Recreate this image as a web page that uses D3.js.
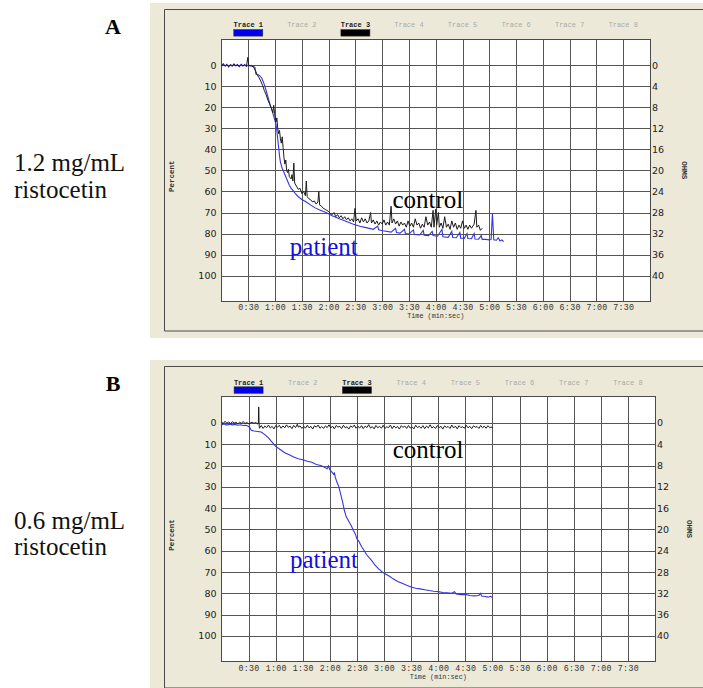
<!DOCTYPE html>
<html>
<head>
<meta charset="utf-8">
<script src="https://cdn.jsdelivr.net/npm/d3@7"></script>
<style>
  body { margin: 0; background: #fff; }
  svg { display: block; }
</style>
</head>
<body>
<div class="vis"></div>
<script>
// tick labels
const timeSeconds = [30, 60, 90, 120, 150, 180, 210, 240, 270, 300, 330, 360, 390, 420, 450];
const timeTicks = ["0:30", "1:00", "1:30", "2:00", "2:30", "3:00", "3:30", "4:00", "4:30", "5:00", "5:30", "6:00", "6:30", "7:00", "7:30"];
const percentTicks = [0, 10, 20, 30, 40, 50, 60, 70, 80, 90, 100];
const ohmsTicks = [0, 4, 8, 12, 16, 20, 24, 28, 32, 36, 40];
const traceNames = ["Trace 1", "Trace 2", "Trace 3", "Trace 4", "Trace 5", "Trace 6", "Trace 7", "Trace 8"];
const activeTraces = ["Trace 1", "Trace 3"];
const panelLetters = ["A", "B"];
const doses = ["1.2 mg/mL", "0.6 mg/mL"];

// [seconds, percent aggregation]
const controlA = [
  [0,0.3],[2,-0.5],[4,0.4],[6,-0.3],[8,0.5],[10,-0.4],[12,0.2],[14,-0.6],[16,0.3],[18,-0.2],
  [20,0.5],[22,-0.4],[24,0.2],[26,-0.3],[28,0.3],[29.5,-3.8],[30.5,0.2],[32,0],[34,0.4],[36,0.8],
  [38,2.5],[40,4.5],[42,5.8],[44,7.5],[46,9.5],[48,12],[50,14],[52,16.5],[54,18.5],[56,20.5],
  [57.5,22.5],[58.5,19],[59.5,23],[61,27],[62,25],[63,30],[64,32.5],[65,31],[66,35],[67,37],
  [68,34],[69,39],[70,44],[71,47],[72,45],[73,50],[74,51],[75,49.5],[76,53],[78,54],
  [79,52],[80,55],[81,46.5],[82,56],[84,57.5],[86,59],[88,58.5],[90,61],[92,60],[94,62],
  [95,55],[96,62.5],[98,63.5],[100,64],[102,65],[104,64.5],[106,66],[108,65],[109,60],[110,66.5],
  [112,67],[114,68],[116,68.5],[118,69],[120,69.5],[122,70.5],[124,71],[126,70],[128,72],[130,71],
  [132,72.5],[134,71.5],[136,73],[138,72],[140,73.5],[142,72.5],[144,74],[146,73],[148,74.5],[149.5,68],
  [151,74],[153,73],[155,75],[157,72.5],[159,74.5],[161,73],[163,75],[165,74],[167,70],[168,75],
  [170,73.5],[172,75.5],[174,74],[176,76],[178,74.5],[180,75.5],[182,73.5],[184,76],[186,74.5],[188,76],
  [190,67],[191,75],[193,73],[195,75.5],[197,74],[199,76.5],[201,74.5],[203,76],[205,75],[207,77],
  [209,74],[211,76.5],[213,75],[215,77],[217,73],[219,76],[221,75],[223,77.5],[225,75.5],[227,77],
  [229,72],[231,76],[233,74.5],[235,77],[237,69],[238,77],[240,68.5],[241,76],[243,70],[244,77],
  [246,75],[248,77.5],[250,72],[252,77],[254,75.5],[256,78],[258,74],[260,77],[262,75],[264,78],
  [266,76],[268,77.5],[270,74],[272,77.5],[274,76],[276,78],[278,76],[280,77.5],[283,75.5],[285,69],
  [286,77],[288,76],[290,78.5],[292,77.5]
];

const patientA = [
  [0,0.5],[2,-0.8],[4,0.3],[6,-0.5],[8,0.8],[10,-0.3],[12,0.4],[14,-0.7],[16,0.2],[18,-0.4],
  [20,0.6],[22,-0.5],[24,0.3],[26,-0.3],[28,0.5],[30,-0.2],[32,0.3],[34,0],[36,0.5],[37.5,1],
  [38.5,4.2],[41,4.5],[43,5],[45,6],[47,8],[49,10.5],[51,13.5],[53,16.5],[55,19.5],[57,22],
  [59,25],[61,28],[62,31],[63,35],[64,39],[65,43],[66,46],[68,49],[70,51],[72,53],
  [74,55],[76,57],[78,58.5],[80,59.5],[83,61.2],[86,62.5],[90,63.8],[95,65],[100,66.5],[105,67.8],
  [110,68.8],[117,70],[124,71.5],[132,73],[140,74.3],[147,75.5],[155,76.5],[162,77.2],[170,78],[175,76.5],
  [176,78.2],[181,78.7],[190,79.3],[195,77.5],[196,79.5],[200,79.8],[205,78],[206,80],[210,80.2],[215,78.3],
  [216,80.5],[222,80.7],[226,78.5],[227,80.8],[232,81],[236,79],[237,81],[242,81.3],[247,78],[248,81.5],
  [254,81.8],[258,79],[259,81.9],[263,82],[267,79.5],[268,82.2],[272,82.3],[275,80],[276,82.4],[280,82.5],
  [283,80],[284,82.6],[288,82.7],[291,81],[292,82.8],[296,82.8],[300,83],[302,82.8],[303.5,70.5],[305,83],
  [308,83.2],[310,82],[312,83.5],[314,83],[316,83.8]
];

const controlB = [
  [0,-0.5],[2,0.3],[4,-0.8],[6,0.2],[8,-0.5],[10,0.4],[12,-0.6],[14,0.1],[16,-0.4],[18,0.5],
  [20,-0.3],[22,0.2],[24,-0.7],[26,0.3],[28,-0.2],[30,0.4],[32,0],[34,-0.3],[36,0.2],[38,-0.2],
  [40,0.5],[40.8,0.3],[41.2,-7.5],[41.6,0.5],[42,2.5],[44,1.2],[46,2.6],[48,1.5],[50,2.2],[52,1.0],
  [54,2.4],[56,1.6],[58,2.8],[60,1.3],[62,2.0],[64,1.1],[66,2.5],[68,1.4],[70,2.3],[72,0.9],
  [74,2.1],[76,1.5],[78,2.7],[80,1.2],[82,2.2],[84,0.6],[85,2.0],[87,1.4],[89,2.6],[91,1.7],
  [93,2.4],[95,1.1],[97,2.3],[99,1.6],[101,2.9],[103,1.3],[105,2.0],[107,1.0],[109,2.5],[111,1.7],
  [113,2.6],[115,1.4],[117,2.2],[119,0.9],[121,2.4],[123,1.5],[125,2.8],[127,1.2],[129,2.0],[131,1.6],
  [133,2.7],[135,1.1],[137,2.3],[139,1.8],[141,2.9],[143,1.4],[145,2.1],[147,1.0],[149,2.5],[151,1.6],
  [153,2.4],[155,1.3],[157,2.7],[159,1.5],[161,2.2],[163,0.8],[165,2.4],[167,1.7],[169,2.8],[171,1.2],
  [173,2.3],[175,1.6],[177,2.5],[179,1.1],[181,2.6],[183,1.8],[185,2.2],[187,1.0],[189,2.7],[191,1.4],
  [193,2.3],[195,1.7],[197,2.9],[199,1.3],[201,2.1],[203,1.5],[205,2.6],[207,1.2],[209,2.4],[211,1.8],
  [213,2.8],[215,1.1],[217,2.2],[219,1.6],[221,2.5],[223,1.3],[225,2.7],[227,1.5],[229,2.3],[231,0.9],
  [233,2.4],[235,1.7],[237,2.6],[239,1.2],[241,2.2],[243,1.6],[245,2.9],[247,1.4],[249,2.1],[251,1.7],
  [253,2.6],[255,1.0],[257,2.4],[259,1.5],[261,2.8],[263,1.3],[265,2.2],[267,1.8],[269,2.5],[271,1.1],
  [273,2.3],[275,1.6],[277,2.7],[279,1.4],[281,2.0],[283,1.7],[285,2.6],[287,1.2],[289,2.3],[291,1.5],
  [293,2.5],[295,1.3],[297,2.2],[299,1.9],[300,2.6]
];

const patientB = [
  [0,0.8],[3,0.5],[6,1.0],[9,0.6],[12,0.9],[15,0.7],[18,1.1],[21,0.9],[24,1.2],[27,1.1],
  [29,1.5],[31,2],[33,3.5],[36,3.8],[40,4],[44,4.3],[48,5.5],[52,7],[56,9],[60,11],
  [65,12.5],[70,14],[75,15],[80,16],[85,16.8],[90,17.3],[95,18],[100,18.5],[105,19.5],[110,20],
  [114,20.8],[117,21.5],[118.5,20.2],[120,22],[122,23],[124,24],[125,23.5],[126,25.5],[128,28],[130,30],
  [132,33.5],[134,37],[136,41],[138,44],[140,45.5],[142,47],[144,48.5],[146,50.5],[148,52],[150,54.5],
  [152,55.5],[155,58],[158,60],[161,62],[164,63.5],[167,65],[170,66.8],[174,68.5],[178,70],[182,71],
  [186,72],[190,73.2],[195,74.4],[200,75.3],[205,76.2],[210,77],[215,77.6],[220,77.9],[225,78.3],[230,78.7],
  [235,79],[240,79.2],[245,79.6],[250,79.8],[255,80],[258,79.2],[260,80.3],[265,80.6],[270,80.5],[275,81],
  [280,81.2],[285,81],[287,80],[288,81.3],[292,81.5],[295,81.8],[298,81.4],[300,82]
];

// layout of the two recorder panels
const panels = [
  { letter: panelLetters[0], dose: doses[0], control: controlA, patient: patientA,
    frameTop: 3, x0: 221.5, x1: 650, top: 39.3, bottom: 301,
    controlAt: [191.5, 68], patientAt: [76.5, 90.3], doseY: 171 },
  { letter: panelLetters[1], dose: doses[1], control: controlB, patient: patientB,
    frameTop: 360, x0: 221.5, x1: 655, top: 396.5, bottom: 661.7,
    controlAt: [189.5, 16.5], patientAt: [75.8, 68.2], doseY: 528.5 }
];

const W = 703, H = 688;
const mono = "'Liberation Mono', 'DejaVu Sans Mono', monospace";
const sans = "'DejaVu Sans', Verdana, sans-serif";
const serif = "'Liberation Serif', 'Times New Roman', serif";
const blue = "#3535dd";

const svg = d3.select(".vis")
  .append("svg")
  .attr("width", W)
  .attr("height", H);

panels.forEach(p => drawPanel(p));

function drawPanel(p) {
  const x = d3.scaleLinear().domain([0, 480]).range([p.x0, p.x1]);
  const y = d3.scaleLinear().domain([-12.4, 112.1]).range([p.top, p.bottom]);
  const yOhms = d3.scaleLinear().domain([-12.4 * 0.4, 112.1 * 0.4]).range([p.top, p.bottom]);
  const w = p.x1 - p.x0, h = p.bottom - p.top;
  const g = svg.append("g");

  // beige window and its frame
  g.append("rect")
    .attr("x", 150).attr("y", p.frameTop)
    .attr("width", W - 150).attr("height", 335)
    .attr("fill", "#ece9d8");
  g.append("path")
    .attr("d", `M${W + 5},${p.frameTop + 6.5}H164.5V${p.frameTop + 328}H${W + 5}`)
    .attr("fill", "none")
    .attr("stroke", "#4a4a4a")
    .attr("stroke-width", 1);

  // left side labels
  g.append("text")
    .attr("x", 113).attr("y", p.frameTop + 30.5)
    .attr("text-anchor", "middle")
    .style("font-family", serif).style("font-size", "22px").style("font-weight", "bold")
    .text(p.letter);
  const dose = g.append("text")
    .attr("x", 14).attr("y", p.doseY)
    .style("font-family", serif).style("font-size", "25px")
    .attr("fill", "#111");
  dose.append("tspan").attr("x", 14).text(p.dose);
  dose.append("tspan").attr("x", 14).attr("dy", 26.5).text("ristocetin");

  // plot background
  g.append("rect")
    .attr("x", p.x0).attr("y", p.top)
    .attr("width", w).attr("height", h)
    .attr("fill", "#fff");

  // grid + axes
  const left = g.append("g")
    .attr("transform", `translate(${p.x0},0)`)
    .call(d3.axisLeft(y).tickValues(percentTicks).tickSize(-w).tickPadding(5));
  const right = g.append("g")
    .attr("transform", `translate(${p.x1},0)`)
    .call(d3.axisRight(yOhms).tickValues(ohmsTicks).tickSize(0).tickPadding(2));
  const bottom = g.append("g")
    .attr("transform", `translate(0,${p.bottom})`)
    .call(d3.axisBottom(x).tickValues(timeSeconds)
      .tickFormat((d, i) => timeTicks[i]).tickSize(-h).tickPadding(3));

  [left, right, bottom].forEach(a => {
    a.select(".domain").remove();
    a.selectAll("line").attr("stroke", "#555").attr("stroke-width", 1).attr("shape-rendering", "crispEdges");
  });
  left.selectAll("text").style("font-family", sans).style("font-size", "9.5px").attr("fill", "#222");
  right.selectAll("text").style("font-family", sans).style("font-size", "9.5px").attr("fill", "#222");
  bottom.selectAll("text").style("font-family", mono).style("font-size", "8.3px")
    .style("letter-spacing", "0.3px").attr("fill", "#333");

  g.append("rect")
    .attr("x", p.x0).attr("y", p.top)
    .attr("width", w).attr("height", h)
    .attr("fill", "none")
    .attr("stroke", "#4a4a4a")
    .attr("shape-rendering", "crispEdges");

  // axis titles
  g.append("text")
    .attr("transform", `translate(171,${(p.top + p.bottom) / 2 + 6}) rotate(-90)`)
    .attr("text-anchor", "middle").attr("dy", "0.35em")
    .style("font-family", mono).style("font-size", "7.5px").style("font-weight", "bold")
    .attr("fill", "#333")
    .text("Percent");
  g.append("text")
    .attr("transform", `translate(${p.x1 + 35},${(p.top + p.bottom) / 2}) rotate(90)`)
    .attr("text-anchor", "middle").attr("dy", "0.35em")
    .style("font-family", mono).style("font-size", "7.5px").style("font-weight", "bold")
    .attr("fill", "#333")
    .text("OHMS");
  g.append("text")
    .attr("x", (p.x0 + p.x1) / 2).attr("y", p.bottom + 17)
    .attr("text-anchor", "middle")
    .style("font-family", mono).style("font-size", "6.8px")
    .attr("fill", "#333")
    .text("Time (min:sec)");

  // trace legend above the plot
  const legend = g.selectAll(".trace")
    .data(traceNames)
    .enter().append("g")
    .attr("transform", (d, i) => `translate(${x(60 * i + 30)},${p.top})`);
  legend.append("text")
    .attr("y", -12)
    .attr("text-anchor", "middle")
    .style("font-family", mono).style("font-size", "7px")
    .style("font-weight", d => activeTraces.includes(d) ? "bold" : "normal")
    .attr("fill", d => activeTraces.includes(d) ? "#222" : "#aaa")
    .text(d => d);
  legend.filter(d => activeTraces.includes(d))
    .append("rect")
    .attr("x", -14.5).attr("y", -9.7)
    .attr("width", 29).attr("height", 6.5)
    .attr("fill", d => d === activeTraces[0] ? "#0000e8" : "#000")
    .attr("stroke", "#333").attr("stroke-width", 0.6);

  // traces
  const line = d3.line()
    .x(d => x(d[0]))
    .y(d => y(d[1]));

  g.append("path")
    .datum(p.patient)
    .attr("fill", "none")
    .attr("stroke", blue)
    .attr("stroke-width", 1.1)
    .attr("d", line);

  g.append("path")
    .datum(p.control)
    .attr("fill", "none")
    .attr("stroke", "#1c1c1c")
    .attr("stroke-width", 1)
    .attr("d", line);

  // annotations
  g.append("text")
    .attr("x", x(p.controlAt[0])).attr("y", y(p.controlAt[1]))
    .style("font-family", serif).style("font-size", "25px")
    .attr("fill", "#000")
    .text("control");
  g.append("text")
    .attr("x", x(p.patientAt[0])).attr("y", y(p.patientAt[1]))
    .style("font-family", serif).style("font-size", "25px")
    .attr("fill", "#1010e0")
    .text("patient");
}
</script>
</body>
</html>
